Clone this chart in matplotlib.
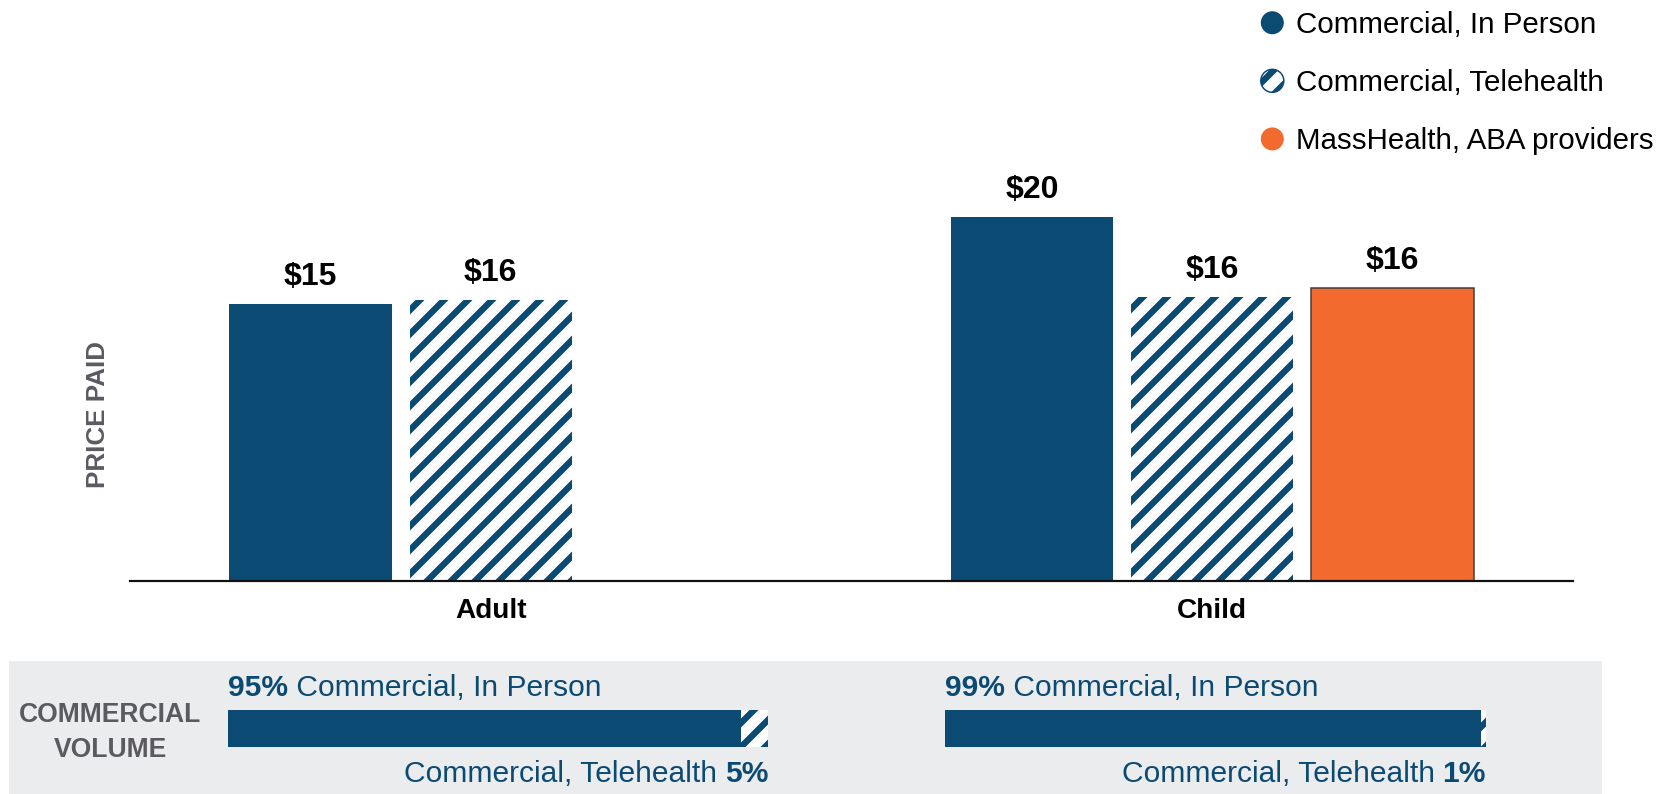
import matplotlib
matplotlib.use("Agg")
import matplotlib.pyplot as plt
import matplotlib.patches as mpatches
from matplotlib.legend_handler import HandlerPatch
from matplotlib import font_manager as fm

# ---------------- data ----------------
categories = ["Adult", "Child"]
series_names = ["Commercial, In Person", "Commercial, Telehealth", "MassHealth, ABA providers"]
price_in_person = [15.4, 20.2]
price_telehealth = [15.6, 15.8]
price_masshealth = [None, 16.3]
volume_in_person = [95, 99]
volume_telehealth = [5, 1]

# ---------------- style ----------------
NAVY = "#0b4a73"
ORANGE = "#f26a2d"
GREY_TXT = "#5a5a60"
PANEL = "#ebecee"

plt.rcParams["font.family"] = ["Liberation Sans", "DejaVu Sans"]
plt.rcParams["hatch.linewidth"] = 6.4

names = {f.name for f in fm.fontManager.ttflist}
has_narrow = "Liberation Sans Narrow" in names

W, H = 1666, 794
DPI = 72
fig = plt.figure(figsize=(W / DPI, H / DPI), dpi=DPI)


def px_axes(x0, y_top, x1, y_bot):
    return fig.add_axes([x0 / W, 1 - y_bot / H, (x1 - x0) / W, (y_bot - y_top) / H])


# gray bottom panel (behind everything)
fig.patches.append(mpatches.Rectangle((8.5 / W, 0), (1602 - 8.5) / W, (794 - 661) / H,
                                      transform=fig.transFigure, facecolor=PANEL,
                                      edgecolor="none", zorder=-5))

# ---------------- main bar chart ----------------
YMAX = 22.2
ax = px_axes(130, 581 - YMAX * 18.0, 1573, 581)
ax.set_xlim(-1, 7)
ax.set_ylim(0, YMAX)
for s in ["top", "right", "left"]:
    ax.spines[s].set_visible(False)
ax.spines["bottom"].set_linewidth(2.2)
ax.spines["bottom"].set_color("#111111")
ax.set_yticks([])
ax.set_facecolor("none")

group_centers = [1, 5]
offsets = [-1, 0, 1]
bw = 0.9
series_values = [price_in_person, price_telehealth, price_masshealth]
for si, vals in enumerate(series_values):
    for gi, v in enumerate(vals):
        if v is None:
            continue
        x = group_centers[gi] + offsets[si]
        if si == 0:
            ax.bar(x, v, width=bw, color=NAVY, linewidth=0, zorder=2)
        elif si == 1:
            ax.bar(x, v, width=bw, facecolor="white", edgecolor=NAVY, hatch="/",
                   linewidth=0, zorder=2)
        else:
            ax.bar(x, v, width=bw, color=ORANGE, edgecolor="#3d3d3d", linewidth=1.5, zorder=2)
        ax.annotate(f"${round(v)}", xy=(x, v), xytext=(0, 12), textcoords="offset points",
                    ha="center", va="bottom", fontsize=32, fontweight="bold", color="black")

ax.set_xticks(group_centers)
ax.set_xticklabels(categories, fontsize=28, fontweight="bold")
ax.tick_params(axis="x", length=0, pad=17)

fig.text(98 / W, 1 - 414 / H, "PRICE PAID", rotation=90, ha="center", va="center",
         fontsize=26, fontweight="bold", color=GREY_TXT)

# ---------------- legend ----------------
handles = [mpatches.Patch(facecolor=NAVY, edgecolor=NAVY, linewidth=0),
           mpatches.Patch(facecolor="white", edgecolor=NAVY, hatch="/", linewidth=1.5),
           mpatches.Patch(facecolor=ORANGE, edgecolor=ORANGE, linewidth=0)]


def make_circle(legend, orig_handle, xdescent, ydescent, width, height, fontsize):
    return mpatches.Circle((width / 2 - xdescent, height / 2 - ydescent), radius=11.5)


leg = fig.legend(handles, series_names, loc="upper left",
                 bbox_to_anchor=(1260.5 / W, 1 - 11 / H), frameon=False, fontsize=29.5,
                 handlelength=0.8, handleheight=0.8, handletextpad=0.4, labelspacing=1.02,
                 borderpad=0, borderaxespad=0,
                 handler_map={mpatches.Patch: HandlerPatch(patch_func=make_circle)})

# ---------------- commercial volume ----------------
if has_narrow:
    cv_kw = dict(family=["Liberation Sans Narrow", "Liberation Sans"], fontsize=32)
else:
    cv_kw = dict(fontsize=26.5)
fig.text(110 / W, 1 - 715 / H, "COMMERCIAL", ha="center", va="center",
         fontweight="bold", color=GREY_TXT, **cv_kw)
fig.text(110 / W, 1 - 750 / H, "VOLUME", ha="center", va="center",
         fontweight="bold", color=GREY_TXT, **cv_kw)

vol_boxes = [(228, 768), (945, 1486)]
FS = 30
for gi, (x0, x1) in enumerate(vol_boxes):
    axv = px_axes(x0, 710, x1, 747)
    axv.set_xlim(0, 100)
    axv.set_ylim(-0.5, 0.5)
    axv.axis("off")
    axv.barh(0, volume_in_person[gi], height=1, color=NAVY, linewidth=0)
    axv.barh(0, volume_telehealth[gi], left=volume_in_person[gi], height=1,
             facecolor="white", edgecolor=NAVY, hatch="/", linewidth=0)
    # top label
    top_y = 1 + (710 - 696) / 37
    t1 = axv.text(0, top_y, f"{volume_in_person[gi]}%", transform=axv.transAxes,
                  ha="left", va="baseline", fontsize=FS, fontweight="bold", color=NAVY)
    axv.annotate(f" {series_names[0]}", xy=(1, 0), xycoords=t1, ha="left", va="bottom",
                 fontsize=FS, color=NAVY)
    # bottom label
    bot_y = -(782 - 747) / 37
    t2 = axv.text(1, bot_y, f"{volume_telehealth[gi]}%", transform=axv.transAxes,
                  ha="right", va="baseline", fontsize=FS, fontweight="bold", color=NAVY)
    axv.annotate(f"{series_names[1]}", xy=(0, 0), xycoords=t2, xytext=(-8, 0),
                 textcoords="offset points", ha="right", va="bottom",
                 fontsize=FS, color=NAVY)

fig.savefig("out.png", dpi=DPI)
